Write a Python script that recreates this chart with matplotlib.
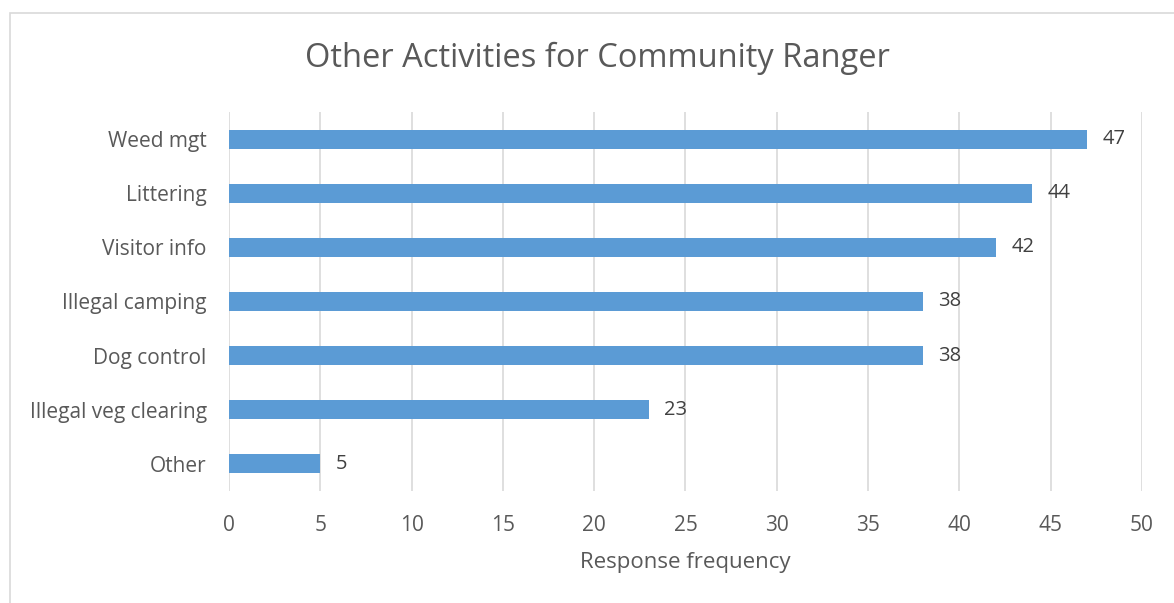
import matplotlib.pyplot as plt
from matplotlib.patches import Rectangle

# Response counts per activity (top to bottom as shown)
activities = ['Weed mgt', 'Littering', 'Visitor info', 'Illegal camping',
              'Dog control', 'Illegal veg clearing', 'Other']
counts = [47, 44, 42, 38, 38, 23, 5]
x_ticks = [0, 5, 10, 15, 20, 25, 30, 35, 40, 45, 50]

text_color = '#595959'
plt.rcParams['font.family'] = ['Open Sans', 'DejaVu Sans']

fig = plt.figure(figsize=(11.74, 6.03), dpi=100)
ax = fig.add_axes([0.195, 0.1857, 0.7777, 0.6286])

# light frame around the chart area
fig.patches.append(Rectangle((10 / 1174, -0.05), 1.2, 1 - 13 / 603 + 0.05,
                             transform=fig.transFigure, fill=False,
                             edgecolor='#d9d9d9', linewidth=1.2))

y = list(range(len(activities)))
ax.barh(y, counts, height=0.35, color='#5b9bd5', zorder=3)
for yi, v in zip(y, counts):
    ax.text(v + 0.85, yi, str(v), va='center', ha='left',
            fontsize=14.5, color='#404040')

ax.set_yticks(y)
ax.set_yticklabels(activities)
ax.set_ylim(len(activities) - 0.5, -0.5)
ax.set_xlim(0, 50)
ax.set_xticks(x_ticks)
ax.grid(axis='x', color='#d9d9d9', linewidth=1.2, zorder=0)
for s in ax.spines.values():
    s.set_visible(False)
ax.tick_params(length=0, labelsize=15, labelcolor=text_color)
ax.tick_params(axis='x', pad=17)
ax.tick_params(axis='y', pad=16)
ax.set_xlabel('Response frequency', fontsize=16, color=text_color, labelpad=12)

fig.suptitle('Other Activities for Community Ranger', fontsize=23.5,
             color=text_color, x=597 / 1174, y=1 - 58 / 603, va='center')

fig.savefig('out.png', dpi=100)
